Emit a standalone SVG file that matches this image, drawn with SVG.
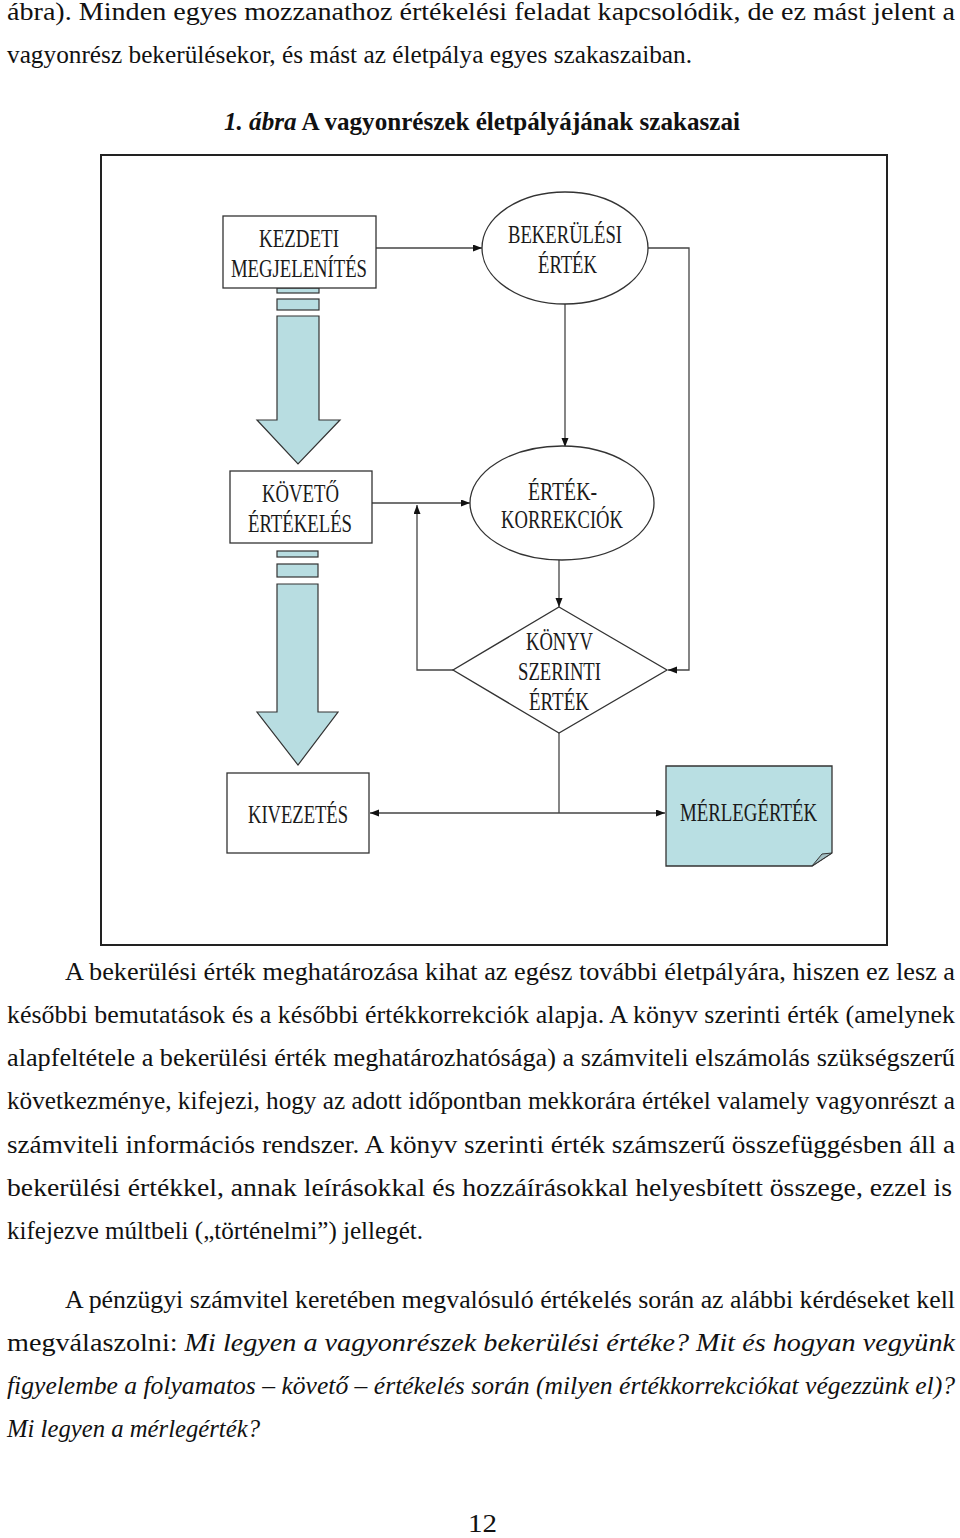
<svg xmlns="http://www.w3.org/2000/svg" width="960" height="1538" viewBox="0 0 960 1538">
<style>
.body{font-family:"Liberation Serif","Times New Roman",serif;font-size:25px;fill:#111}
.it{font-style:italic}
.lbl{font-family:"Liberation Serif","Times New Roman",serif;font-size:25px;fill:#1a1a1a}
.box{fill:#fff;stroke:#333;stroke-width:1.3}
.blk{fill:#b8dde1;stroke:#333;stroke-width:1.2}
.con{fill:none;stroke:#444;stroke-width:1.3}
</style>
<defs>
<marker id="ah" markerUnits="userSpaceOnUse" markerWidth="10" markerHeight="8" refX="9" refY="3.5" orient="auto">
<path d="M0,0 L9,3.5 L0,7 z" fill="#111"/>
</marker>
</defs>
<rect width="960" height="1538" fill="#fff"/>

<!-- top text -->
<text class="body" x="7" y="20" textLength="948" lengthAdjust="spacingAndGlyphs">ábra). Minden egyes mozzanathoz értékelési feladat kapcsolódik, de ez mást jelent a</text>
<text class="body" x="7" y="63" textLength="685" lengthAdjust="spacingAndGlyphs">vagyonrész bekerülésekor, és mást az életpálya egyes szakaszaiban.</text>
<text class="body" x="224" y="130" textLength="516" lengthAdjust="spacingAndGlyphs" font-weight="bold"><tspan class="it">1. ábra</tspan> A vagyonrészek életpályájának szakaszai</text>

<!-- frame -->
<rect x="101" y="155" width="786" height="790" fill="none" stroke="#222" stroke-width="2"/>

<!-- connectors -->
<g id="connectors">
<line class="con" x1="376" y1="248" x2="482" y2="248" marker-end="url(#ah)"/>
<line class="con" x1="565" y1="304" x2="565" y2="447" marker-end="url(#ah)"/>
<path class="con" d="M648,248 H689 V670 H668" marker-end="url(#ah)"/>
<line class="con" x1="372" y1="503" x2="470" y2="503" marker-end="url(#ah)"/>
<path class="con" d="M453,670 H417 V505" marker-end="url(#ah)"/>
<line class="con" x1="559" y1="560" x2="559" y2="607" marker-end="url(#ah)"/>
<line class="con" x1="559" y1="733" x2="559" y2="813"/>
<line class="con" x1="559" y1="813" x2="370" y2="813" marker-end="url(#ah)"/>
<line class="con" x1="559" y1="813" x2="665" y2="813" marker-end="url(#ah)"/>
</g>

<!-- block arrows -->
<g id="blockarrow1">
<rect class="blk" x="277" y="288" width="42" height="5"/>
<rect class="blk" x="277" y="299" width="42" height="11"/>
<polygon class="blk" points="277,316 319,316 319,420 340,420 298,464 257,420 277,420"/>
</g>
<g id="blockarrow2">
<rect class="blk" x="277" y="551" width="41" height="6"/>
<rect class="blk" x="277" y="564" width="41" height="13"/>
<polygon class="blk" points="277,584 318,584 318,712 338,712 298,765 257,712 277,712"/>
</g>

<g id="kezdeti">
<rect class="box" x="223" y="216" width="153" height="72"/>
<text class="lbl" x="259" y="247" textLength="80" lengthAdjust="spacingAndGlyphs">KEZDETI</text>
<text class="lbl" x="231" y="277" textLength="136" lengthAdjust="spacingAndGlyphs">MEGJELENÍTÉS</text>
</g>

<g id="bekerulesi">
<ellipse class="box" cx="565" cy="248" rx="83" ry="56"/>
<text class="lbl" x="508" y="243" textLength="114" lengthAdjust="spacingAndGlyphs">BEKERÜLÉSI</text>
<text class="lbl" x="538" y="273" textLength="59" lengthAdjust="spacingAndGlyphs">ÉRTÉK</text>
</g>

<g id="koveto">
<rect class="box" x="230" y="471" width="142" height="72"/>
<text class="lbl" x="262" y="502" textLength="77" lengthAdjust="spacingAndGlyphs">KÖVETŐ</text>
<text class="lbl" x="248" y="532" textLength="104" lengthAdjust="spacingAndGlyphs">ÉRTÉKELÉS</text>
</g>

<g id="ertekkorrekciok">
<ellipse class="box" cx="562" cy="503" rx="92" ry="57"/>
<text class="lbl" x="528" y="500" textLength="69" lengthAdjust="spacingAndGlyphs">ÉRTÉK-</text>
<text class="lbl" x="501" y="528" textLength="122" lengthAdjust="spacingAndGlyphs">KORREKCIÓK</text>
</g>

<g id="konyvszerinti">
<polygon class="box" points="559,607 667,670 559,733 453,670"/>
<text class="lbl" x="526" y="650" textLength="67" lengthAdjust="spacingAndGlyphs">KÖNYV</text>
<text class="lbl" x="518" y="680" textLength="83" lengthAdjust="spacingAndGlyphs">SZERINTI</text>
<text class="lbl" x="529" y="710" textLength="60" lengthAdjust="spacingAndGlyphs">ÉRTÉK</text>
</g>

<g id="kivezetes">
<rect class="box" x="227" y="773" width="142" height="80"/>
<text class="lbl" x="248" y="823" textLength="100" lengthAdjust="spacingAndGlyphs">KIVEZETÉS</text>
</g>

<g id="merlegertek">
<path d="M666,766 H832 V853 L812,866 H666 Z" fill="#b9dfe3" stroke="#333" stroke-width="1.3"/>
<polygon points="812,866 822,854 832,853" fill="#a4c0c4" stroke="#333" stroke-width="1"/>
<text class="lbl" x="680" y="821" textLength="137" lengthAdjust="spacingAndGlyphs">MÉRLEGÉRTÉK</text>
</g>

<!-- paragraph 1 -->
<text class="body" x="65" y="980" textLength="890" lengthAdjust="spacingAndGlyphs">A bekerülési érték meghatározása kihat az egész további életpályára, hiszen ez lesz a</text>
<text class="body" x="7" y="1023" textLength="948" lengthAdjust="spacingAndGlyphs">későbbi bemutatások és a későbbi értékkorrekciók alapja. A könyv szerinti érték (amelynek</text>
<text class="body" x="7" y="1066" textLength="948" lengthAdjust="spacingAndGlyphs">alapfeltétele a bekerülési érték meghatározhatósága) a számviteli elszámolás szükségszerű</text>
<text class="body" x="7" y="1109" textLength="948" lengthAdjust="spacingAndGlyphs">következménye, kifejezi, hogy az adott időpontban mekkorára értékel valamely vagyonrészt a</text>
<text class="body" x="7" y="1153" textLength="948" lengthAdjust="spacingAndGlyphs">számviteli információs rendszer. A könyv szerinti érték számszerű összefüggésben áll a</text>
<text class="body" x="7" y="1196" textLength="945" lengthAdjust="spacingAndGlyphs">bekerülési értékkel, annak leírásokkal és hozzáírásokkal helyesbített összege, ezzel is</text>
<text class="body" x="7" y="1239" textLength="416" lengthAdjust="spacingAndGlyphs">kifejezve múltbeli („történelmi”) jellegét.</text>

<!-- paragraph 2 -->
<text class="body" x="65" y="1308" textLength="890" lengthAdjust="spacingAndGlyphs">A pénzügyi számvitel keretében megvalósuló értékelés során az alábbi kérdéseket kell</text>
<text class="body" x="7" y="1351" textLength="948" lengthAdjust="spacingAndGlyphs">megválaszolni: <tspan class="it">Mi legyen a vagyonrészek bekerülési értéke? Mit és hogyan vegyünk</tspan></text>
<text class="body it" x="7" y="1394" textLength="948" lengthAdjust="spacingAndGlyphs">figyelembe a folyamatos – követő – értékelés során (milyen értékkorrekciókat végezzünk el)?</text>
<text class="body it" x="7" y="1437" textLength="253" lengthAdjust="spacingAndGlyphs">Mi legyen a mérlegérték?</text>

<text class="body" x="468" y="1532" font-size="28" textLength="29" lengthAdjust="spacingAndGlyphs">12</text>
</svg>
